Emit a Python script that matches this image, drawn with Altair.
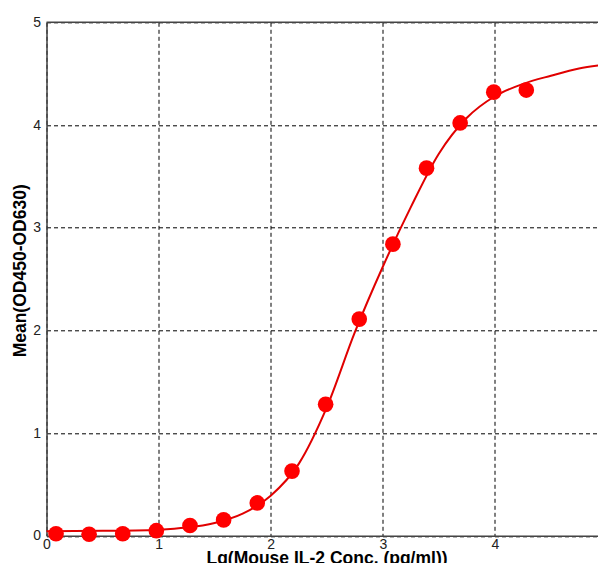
import altair as alt
import pandas as pd

# measured points: log10 concentration vs mean OD
x_pts = [0.085, 0.38, 0.68, 0.98, 1.28, 1.58, 1.88, 2.19, 2.49, 2.79, 3.09, 3.39, 3.69, 3.99, 4.28]
y_pts = [0.02, 0.015, 0.02, 0.05, 0.10, 0.155, 0.32, 0.63, 1.28, 2.11, 2.84, 3.58, 4.02, 4.32, 4.34]

# fitted curve
cx = [0, 0.5, 1.0, 1.25, 1.5, 1.75, 2.0, 2.25, 2.5, 2.75, 3.0, 3.25, 3.5, 3.75, 4.0, 4.25, 4.5, 4.75, 5.0]
cy = [0.045, 0.048, 0.06, 0.08, 0.125, 0.215, 0.39, 0.70, 1.25, 1.98, 2.62, 3.20, 3.72, 4.07, 4.28, 4.40, 4.48, 4.55, 4.59]

tick_vals = [0, 1, 2, 3, 4, 5]

pts = pd.DataFrame({"x": x_pts, "y": y_pts})
curve = pd.DataFrame({"x": cx, "y": cy})
top = pd.DataFrame({"x": [0], "x2": [5], "y": [5]})

FONT = "Liberation Sans"

# x range runs a little past the drawn view, so the right edge is cut off as in the reference
xscale = alt.Scale(domain=[0, 5], nice=False, zero=False, range=[0, 560.5])
yscale = alt.Scale(domain=[0, 5], nice=False, zero=False)

xaxis = alt.Axis(
    values=tick_vals, format="d", grid=True, gridDash=[4, 3], gridColor="#000000", gridWidth=1,
    domainColor="#444444", domainWidth=1.5, ticks=False, labelFlush=False,
    labelFontSize=14, labelFont=FONT, labelColor="#222222", labelPadding=1.5,
    title="Lg(Mouse IL-2 Conc. (pg/ml))", titleFont=FONT, titleFontSize=17.5,
    titleFontWeight="bold", titleColor="#000000", titleBaseline="alphabetic",
    titleY=28, titleX=280,
)
yaxis = alt.Axis(
    values=tick_vals, format="d", grid=True, gridDash=[4, 3], gridColor="#000000", gridWidth=1,
    domainColor="#444444", domainWidth=1.5, ticks=False, labelFlush=False,
    labelFontSize=14, labelFont=FONT, labelColor="#222222", labelPadding=6,
    title="Mean(OD450-OD630)", titleFont=FONT, titleFontSize=17.5,
    titleFontWeight="bold", titleColor="#000000", titleAngle=-90,
    titleAlign="center", titleBaseline="middle", titleX=-26.5, titleY=248,
)

line = alt.Chart(curve).mark_line(color="#e00000", strokeWidth=2, interpolate="monotone").encode(
    x=alt.X("x:Q", scale=xscale, axis=xaxis),
    y=alt.Y("y:Q", scale=yscale, axis=yaxis),
)

points = alt.Chart(pts).mark_point(filled=True, size=245, color="#ff0000", opacity=1).encode(
    x=alt.X("x:Q", scale=xscale),
    y=alt.Y("y:Q", scale=yscale),
)

topline = alt.Chart(top).mark_rule(color="#444444", strokeWidth=1.5).encode(
    x=alt.X("x:Q", scale=xscale), x2="x2:Q", y=alt.Y("y:Q", scale=yscale)
)

chart = alt.layer(line, points, topline).properties(
    width=551.5, height=513.5,
    padding={"left": 38.5, "top": 14.3, "right": 0, "bottom": 27.2},
    autosize="none",
).configure_view(stroke=None).configure(background="#ffffff")

chart.save("out.html", embed_options={"renderer": "svg", "actions": False})
